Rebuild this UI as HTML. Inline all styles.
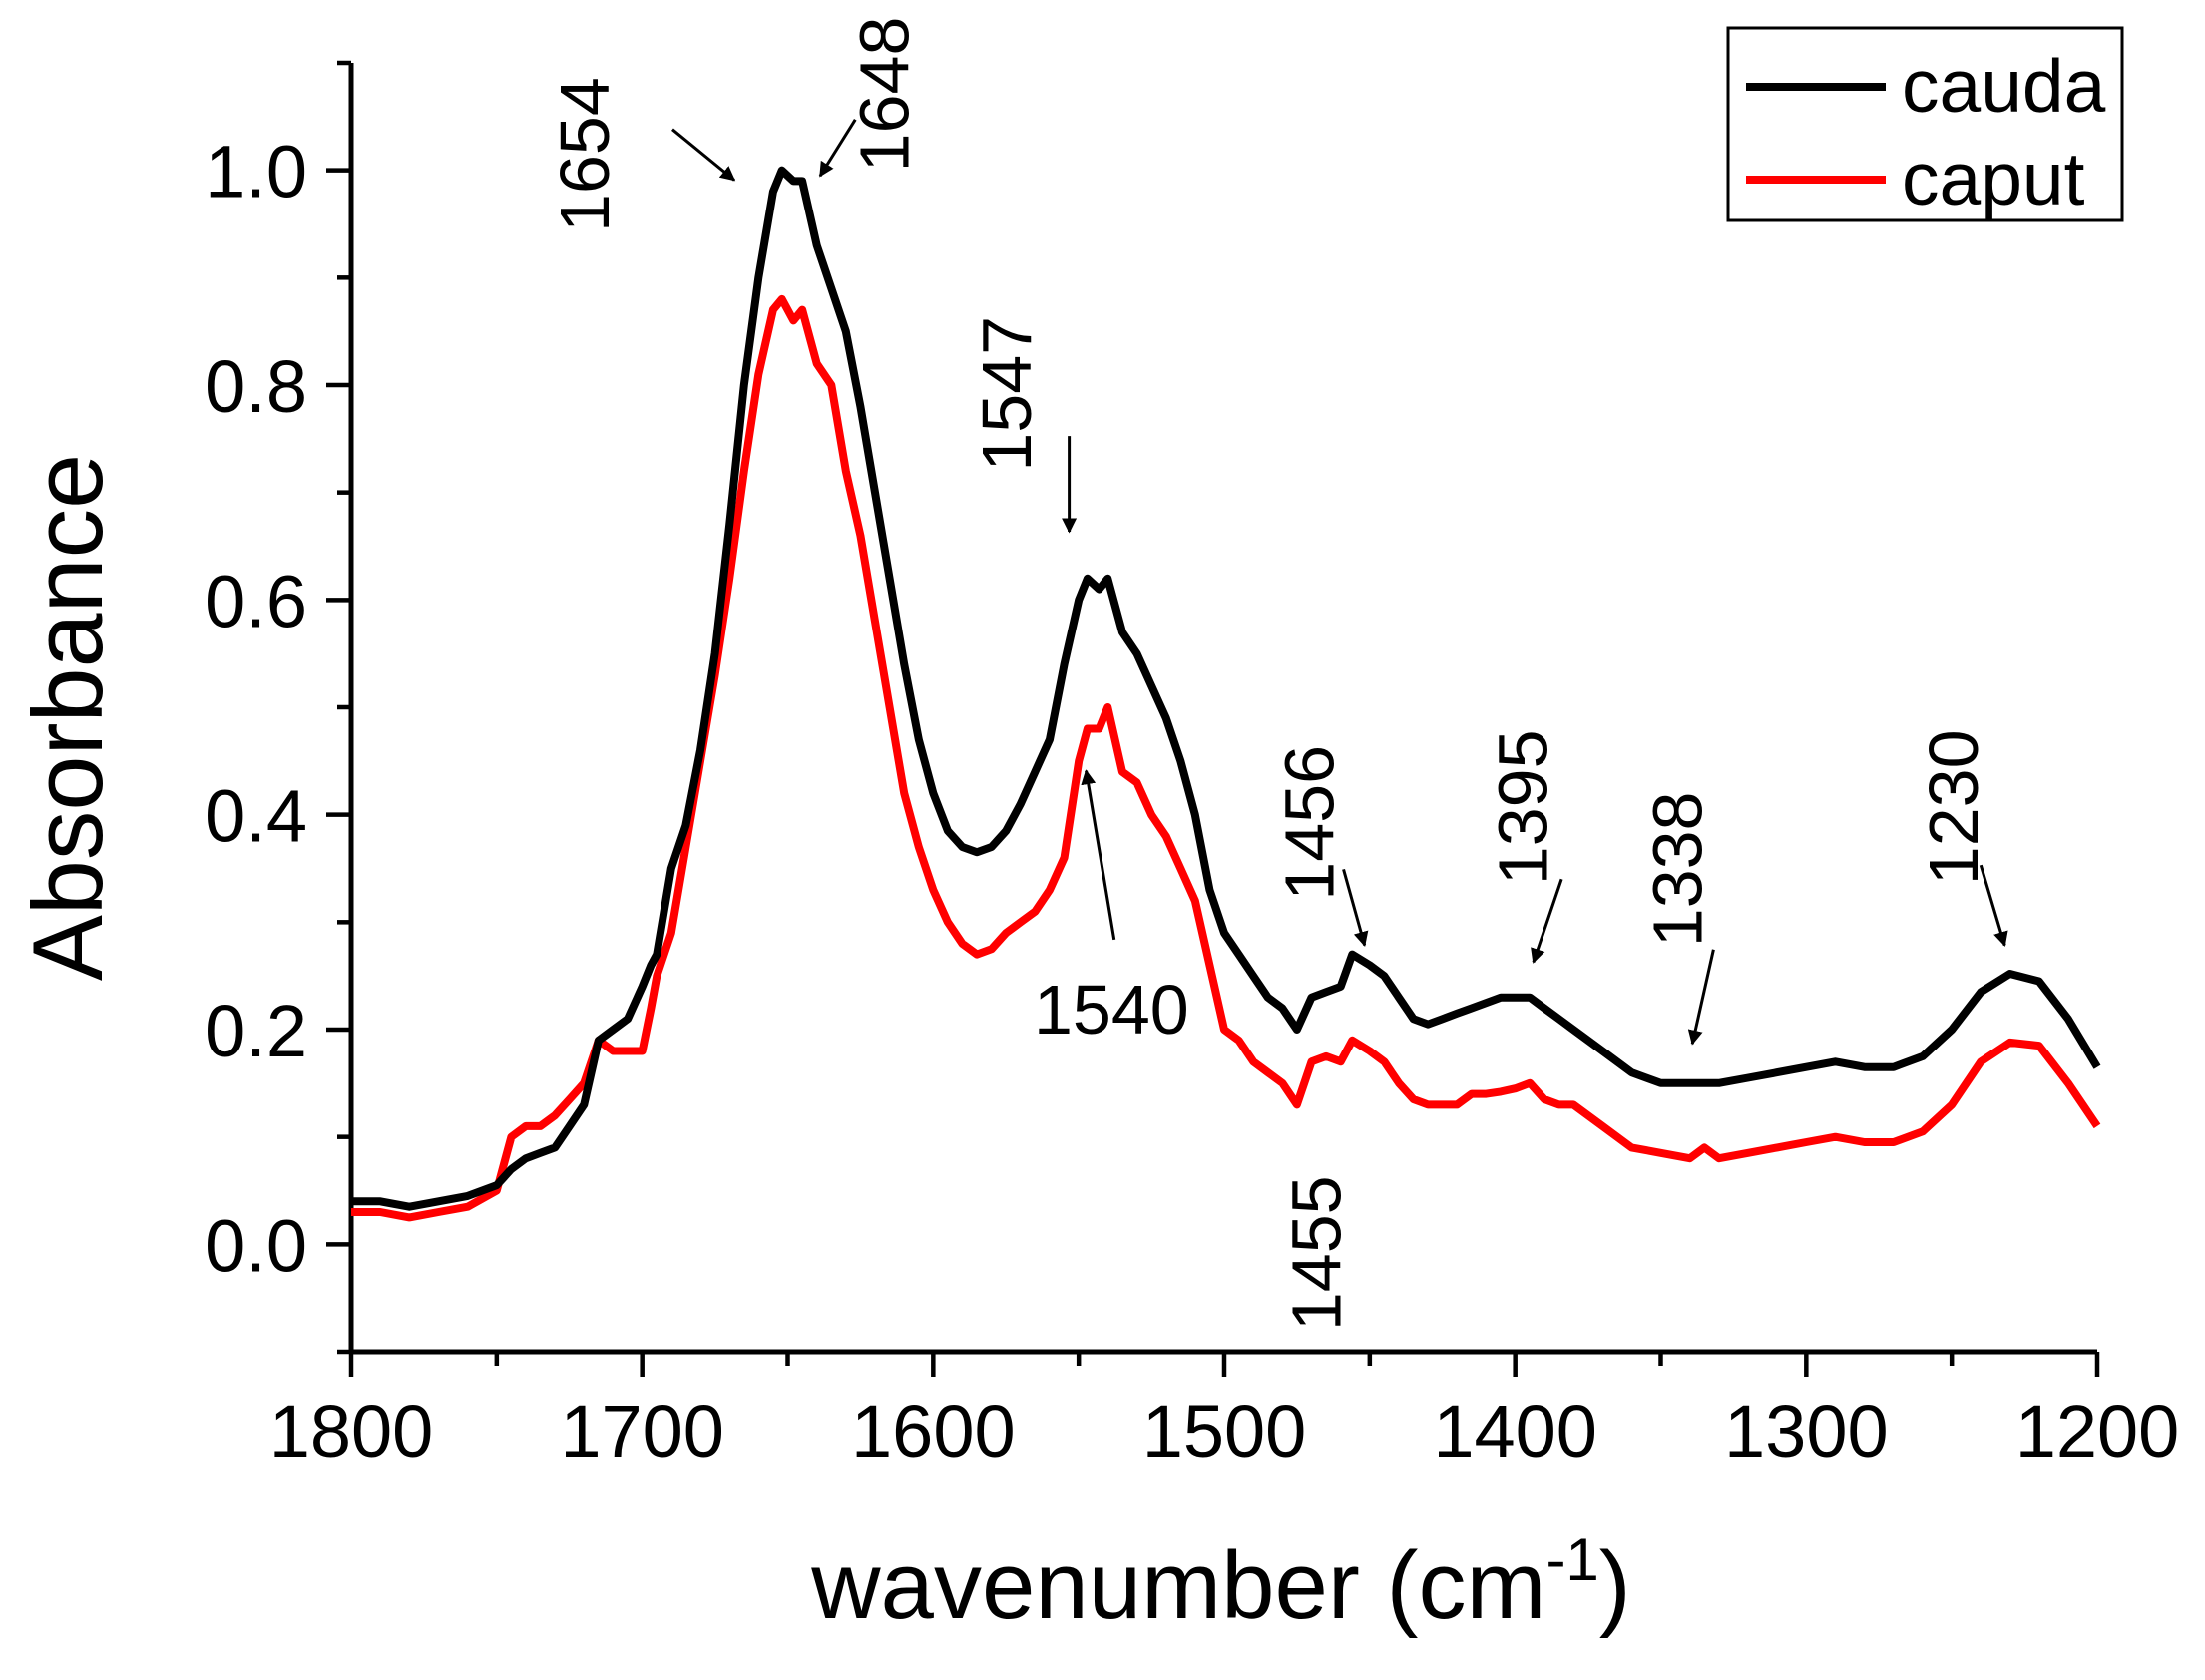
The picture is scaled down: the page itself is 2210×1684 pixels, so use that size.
<!DOCTYPE html>
<html><head><meta charset="utf-8"><style>
html,body{margin:0;padding:0;background:#fff;}
svg{display:block;font-family:"Liberation Sans",Arial,sans-serif;}
</style></head><body>
<svg id="chart" width="2210" height="1684" viewBox="0 0 2210 1684" xmlns="http://www.w3.org/2000/svg">
<defs><marker id="ah" viewBox="0 0 10 10" refX="9" refY="5" markerWidth="5" markerHeight="5" orient="auto"><path d="M0,0 L10,5 L0,10 z" fill="#000"/></marker></defs>
<g id="axes"></g>
<g id="series"></g>
<g id="annots"></g>
<text x="1224" y="1622" font-size="96" text-anchor="middle">wavenumber (cm<tspan font-size="60" dy="-38">-1</tspan><tspan dy="38">)</tspan></text>
<text x="0" y="0" font-size="99" text-anchor="middle" transform="translate(102,719) rotate(-90)">Absorbance</text>
<g>
<rect x="1732" y="28" width="395" height="193" fill="#fff" stroke="#000" stroke-width="3"/>
<line x1="1750" y1="87" x2="1890" y2="87" stroke="#000" stroke-width="8"/>
<text x="1906" y="112" font-size="75">cauda</text>
<line x1="1750" y1="180" x2="1890" y2="180" stroke="#f00" stroke-width="8"/>
<text x="1906" y="205" font-size="75">caput</text>
</g>
</svg>
<script>
const wavenumbers=[1800,1790,1780,1770,1760,1750,1745,1740,1735,1730,1725,1720,1715,1710,1705,1700,1697,1695,1690,1685,1680,1675,1670,1665,1660,1655,1652,1648,1645,1640,1635,1630,1625,1620,1615,1610,1605,1600,1595,1590,1585,1580,1575,1570,1565,1560,1555,1550,1547,1543,1540,1535,1530,1525,1520,1515,1510,1505,1500,1495,1490,1485,1480,1475,1470,1465,1460,1456,1450,1445,1440,1435,1430,1425,1420,1415,1410,1405,1400,1395,1390,1385,1380,1370,1360,1350,1340,1335,1330,1320,1310,1300,1290,1280,1270,1260,1250,1240,1230,1220,1210,1200];
const cauda=[0.04,0.04,0.035,0.04,0.045,0.055,0.07,0.08,0.085,0.09,0.11,0.13,0.19,0.2,0.21,0.24,0.26,0.27,0.35,0.39,0.46,0.55,0.67,0.8,0.9,0.98,1.0,0.99,0.99,0.93,0.89,0.85,0.78,0.7,0.62,0.54,0.47,0.42,0.385,0.37,0.365,0.37,0.385,0.41,0.44,0.47,0.54,0.6,0.62,0.61,0.62,0.57,0.55,0.52,0.49,0.45,0.4,0.33,0.29,0.27,0.25,0.23,0.22,0.2,0.23,0.235,0.24,0.27,0.26,0.25,0.23,0.21,0.205,0.21,0.215,0.22,0.225,0.23,0.23,0.23,0.22,0.21,0.2,0.18,0.16,0.15,0.15,0.15,0.15,0.155,0.16,0.165,0.17,0.165,0.165,0.175,0.2,0.235,0.252,0.245,0.21,0.165];
const caput=[0.03,0.03,0.025,0.03,0.035,0.05,0.1,0.11,0.11,0.12,0.135,0.15,0.19,0.18,0.18,0.18,0.22,0.25,0.29,0.37,0.45,0.53,0.62,0.72,0.81,0.87,0.88,0.86,0.87,0.82,0.8,0.72,0.66,0.58,0.5,0.42,0.37,0.33,0.3,0.28,0.27,0.275,0.29,0.3,0.31,0.33,0.36,0.45,0.48,0.48,0.5,0.44,0.43,0.4,0.38,0.35,0.32,0.26,0.2,0.19,0.17,0.16,0.15,0.13,0.17,0.175,0.17,0.19,0.18,0.17,0.15,0.135,0.13,0.13,0.13,0.14,0.14,0.142,0.145,0.15,0.135,0.13,0.13,0.11,0.09,0.085,0.08,0.09,0.08,0.085,0.09,0.095,0.1,0.095,0.095,0.105,0.13,0.17,0.188,0.185,0.15,0.11];
const xTicks=[1800,1700,1600,1500,1400,1300,1200];
const yTicks=[0.0,0.2,0.4,0.6,0.8,1.0];
const L=352,R=2102,T=63,B=1355;
const sx=v=>L+(1800-v)/600*(R-L);
const sy=v=>B-(v+0.1)/1.2*(B-T);
const NS="http://www.w3.org/2000/svg";
function mk(tag,attrs,parent){const e=document.createElementNS(NS,tag);for(const k in attrs)e.setAttribute(k,attrs[k]);parent.appendChild(e);return e;}
const axes=document.getElementById('axes');
let e=mk('line',{x1:L,y1:T,x2:L,y2:B,stroke:'#000','stroke-width':5},axes);


e=mk('line',{x1:L-2,y1:B,x2:R,y2:B,stroke:'#000','stroke-width':5},axes);


for(let v=1800;v>=1200;v-=50){const maj=v%100===0;
 e=mk('line',{x1:sx(v),y1:B,x2:sx(v),y2:B+(maj?25:14),stroke:'#000','stroke-width':4.5},axes);
 
 }
xTicks.forEach(v=>{e=mk('text',{x:sx(v),y:1460,'font-size':74,'text-anchor':'middle'},axes);e.textContent=v;
 
 });
for(let i=-1;i<=11;i++){const v=i/10;const maj=i%2===0;
 e=mk('line',{x1:L,y1:sy(v),x2:L-(maj?25:14),y2:sy(v),stroke:'#000','stroke-width':4.5},axes);
 
 }
yTicks.forEach(v=>{e=mk('text',{x:308,y:sy(v)+27,'font-size':74,'text-anchor':'end'},axes);e.textContent=v.toFixed(1);
 
 });
const ser=document.getElementById('series');
function line(vals,color,name){const d=vals.map((v,i)=>(i?'L':'M')+sx(wavenumbers[i]).toFixed(1)+','+sy(v).toFixed(1)).join(' ');
 const p=mk('path',{d:d,fill:'none',stroke:color,'stroke-width':8,'stroke-linejoin':'round'},ser);
 
 }
line(caput,'#f00','caput-line');
line(cauda,'#000','cauda-line');
const an=document.getElementById('annots');
const s=1.41;
const labels=[["1654",415,110],["1648",628,67],["1547",715,280],["1456",930,585],["1395",1082,574],["1338",1192,618],["1230",1388,574],["1455",935,891]];
labels.forEach(l=>{e=mk('text',{'font-size':70,'text-anchor':'middle',transform:`translate(${l[1]*s+25},${l[2]*s}) rotate(-90)`},an);e.textContent=l[0];
 
 });
e=mk('text',{'font-size':70,x:1036,y:1036},an);e.textContent="1540";


const arrows=[[478,92,522,128],[608,85,583,125],[760,310,760,378],[955,618,970,672],[1110,625,1090,684],[1218,675,1203,742],[1408,615,1425,672],[792,668,772,548]];
arrows.forEach(a=>{e=mk('line',{x1:a[0]*s,y1:a[1]*s,x2:a[2]*s,y2:a[3]*s,stroke:'#000','stroke-width':3,'marker-end':'url(#ah)'},an);
 
 });
</script>
</body></html>
